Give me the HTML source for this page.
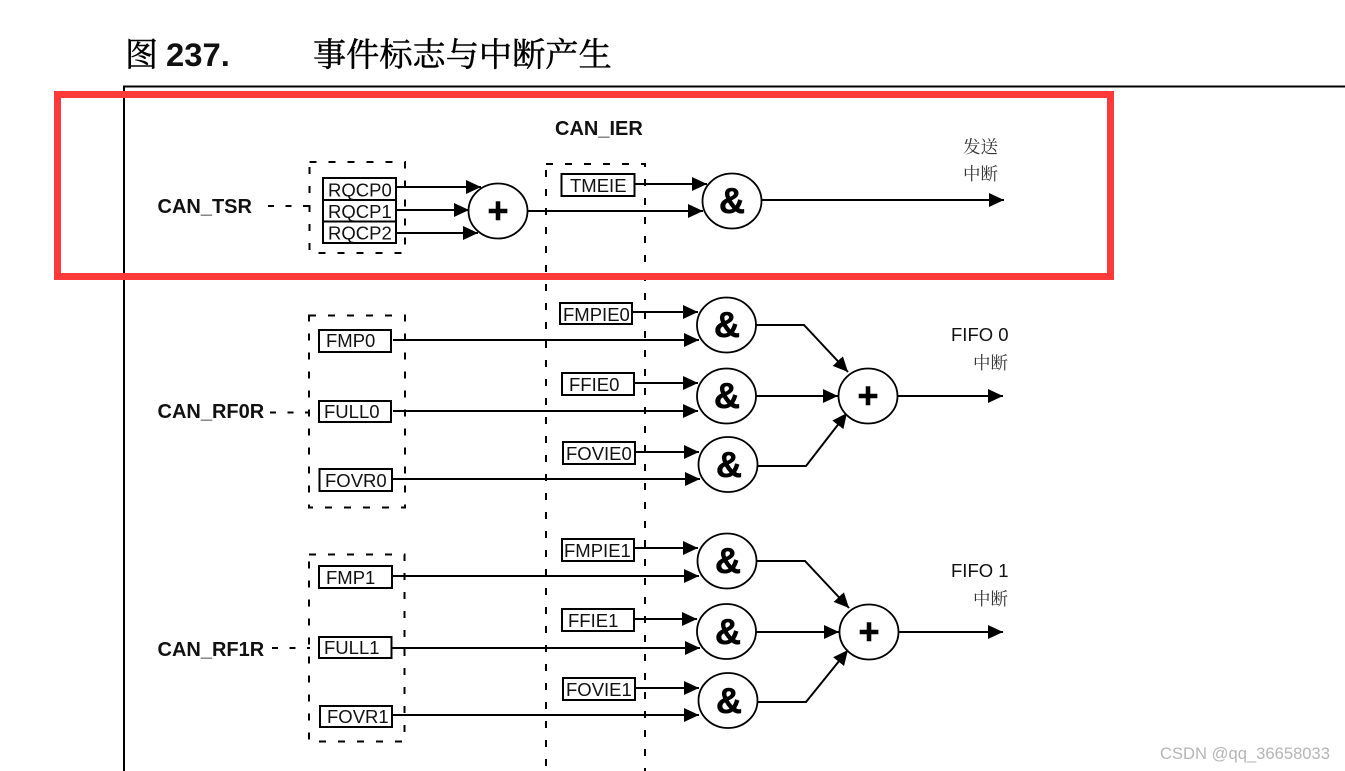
<!DOCTYPE html>
<html>
<head>
<meta charset="utf-8">
<style>
html,body{margin:0;padding:0;background:#fff;width:1345px;height:771px;overflow:hidden}
svg{display:block}
text{font-family:"Liberation Sans","Noto Sans CJK SC",sans-serif;fill:#111}
.b{font-weight:bold;font-size:20px}
.r{font-size:18.5px}
.op{font-weight:bold;font-size:36px;text-anchor:middle;fill:#000;stroke:#000;stroke-width:.6px}
.cn{font-family:"Liberation Serif","Noto Serif CJK SC",serif;font-size:17.5px;fill:#333}
.box{fill:#fff;stroke:#000;stroke-width:2}
.ln{fill:none;stroke:#000;stroke-width:2}
.d{fill:none;stroke:#000;stroke-width:2;stroke-dasharray:7 12}
.d2{fill:none;stroke:#000;stroke-width:2;stroke-dasharray:6 11.500}
.c{fill:#fff;stroke:#000;stroke-width:1.8}
.t{font-family:"Liberation Serif","Noto Serif CJK SC",serif;fill:#000;stroke:#000;stroke-width:.5px}
</style>
</head>
<body>
<svg width="1345" height="771" viewBox="0 0 1345 771" xmlns="http://www.w3.org/2000/svg">
<defs>
<marker id="a" markerUnits="userSpaceOnUse" markerWidth="15" markerHeight="14" refX="15" refY="7" orient="auto">
<path d="M0 0L15 7L0 14Z" fill="#000"/>
</marker>
</defs>

<text class="t" x="125" y="66" style="font-size:33px">图</text>
<text x="166" y="66" style="font-weight:bold;font-size:32.800px;fill:#111">237.</text>
<text class="t" x="313" y="66" style="font-size:33.200px">事件标志与中断产生</text>

<path d="M124 771V86.500H1345" class="ln"/>

<!-- dashed groups -->
<rect x="309.500" y="162" width="95.500" height="91" class="d"/>
<rect x="546" y="164" width="99" height="620" class="d"/>
<rect x="309" y="315.500" width="96" height="192" class="d"/>
<rect x="309" y="554.500" width="95.500" height="187" class="d"/>
<path d="M268 206H310M270 412.500H310M272 648H310" class="d2"/>

<!-- left labels -->
<text class="b" x="157.500" y="213">CAN_TSR</text>
<text class="b" x="157.500" y="418">CAN_RF0R</text>
<text class="b" x="157.500" y="656">CAN_RF1R</text>
<text class="b" x="555" y="135">CAN_IER</text>

<!-- connectors -->
<path class="ln" d="M396 187H481" marker-end="url(#a)"/>
<path class="ln" d="M396 210H469" marker-end="url(#a)"/>
<path class="ln" d="M396 233H478" marker-end="url(#a)"/>
<path class="ln" d="M528 211H703" marker-end="url(#a)"/>
<path class="ln" d="M635 184H707" marker-end="url(#a)"/>
<path class="ln" d="M762 200H1004" marker-end="url(#a)"/>

<path class="ln" d="M393 340H699" marker-end="url(#a)"/>
<path class="ln" d="M393 411H698" marker-end="url(#a)"/>
<path class="ln" d="M392 479H700" marker-end="url(#a)"/>
<path class="ln" d="M632 312H698" marker-end="url(#a)"/>
<path class="ln" d="M634 383H698" marker-end="url(#a)"/>
<path class="ln" d="M635 452H699" marker-end="url(#a)"/>
<path class="ln" d="M756 325H804L848 372" marker-end="url(#a)"/>
<path class="ln" d="M756 396H838" marker-end="url(#a)"/>
<path class="ln" d="M757 466H806L847 413" marker-end="url(#a)"/>
<path class="ln" d="M898 396H1003" marker-end="url(#a)"/>

<path class="ln" d="M392 576H699" marker-end="url(#a)"/>
<path class="ln" d="M392 648H700" marker-end="url(#a)"/>
<path class="ln" d="M392 715H699" marker-end="url(#a)"/>
<path class="ln" d="M634 548H698" marker-end="url(#a)"/>
<path class="ln" d="M634 619H697" marker-end="url(#a)"/>
<path class="ln" d="M635 688H699" marker-end="url(#a)"/>
<path class="ln" d="M756 561H805L849 608" marker-end="url(#a)"/>
<path class="ln" d="M756 632H839" marker-end="url(#a)"/>
<path class="ln" d="M757 702H806L848 650" marker-end="url(#a)"/>
<path class="ln" d="M899 632H1003" marker-end="url(#a)"/>

<!-- register boxes -->
<rect class="box" x="323" y="178" width="73" height="22"/>
<rect class="box" x="323" y="200" width="73" height="21.500"/>
<rect class="box" x="323" y="221.500" width="73" height="21.500"/>
<text class="r" x="328" y="196.500">RQCP0</text>
<text class="r" x="328" y="218">RQCP1</text>
<text class="r" x="328" y="239.500">RQCP2</text>

<rect class="box" x="561.500" y="174" width="73" height="22"/>
<text class="r" x="570" y="192">TMEIE</text>

<rect class="box" x="319" y="330" width="72" height="22"/>
<text class="r" x="326" y="347">FMP0</text>
<rect class="box" x="319" y="401" width="72" height="21"/>
<text class="r" x="324" y="418">FULL0</text>
<rect class="box" x="319.500" y="469" width="72.500" height="22"/>
<text class="r" x="325" y="487">FOVR0</text>

<rect class="box" x="560" y="303" width="72" height="21"/>
<text class="r" x="563" y="321">FMPIE0</text>
<rect class="box" x="562" y="373" width="72" height="22"/>
<text class="r" x="569" y="391">FFIE0</text>
<rect class="box" x="563" y="442" width="72" height="22"/>
<text class="r" x="566" y="460">FOVIE0</text>

<rect class="box" x="319" y="566" width="73" height="22"/>
<text class="r" x="326" y="584">FMP1</text>
<rect class="box" x="319" y="637" width="72.500" height="21"/>
<text class="r" x="324" y="654">FULL1</text>
<rect class="box" x="320" y="706" width="72" height="21"/>
<text class="r" x="327" y="723">FOVR1</text>

<rect class="box" x="562" y="539" width="72" height="22"/>
<text class="r" x="564" y="557">FMPIE1</text>
<rect class="box" x="562" y="609" width="72" height="22"/>
<text class="r" x="568" y="627">FFIE1</text>
<rect class="box" x="563" y="678" width="72" height="22"/>
<text class="r" x="566" y="696">FOVIE1</text>

<!-- gates -->
<ellipse class="c" cx="498" cy="211" rx="29.500" ry="27.500"/>
<text class="op" x="498" y="223">+</text>
<ellipse class="c" cx="732" cy="201" rx="29.500" ry="27.500"/>
<text class="op" x="732" y="213">&amp;</text>

<ellipse class="c" cx="726.500" cy="325" rx="29.500" ry="27.500"/>
<text class="op" x="727" y="337">&amp;</text>
<ellipse class="c" cx="726.500" cy="396" rx="29.500" ry="27.500"/>
<text class="op" x="727" y="408">&amp;</text>
<ellipse class="c" cx="728" cy="464.500" rx="29.500" ry="27.500"/>
<text class="op" x="729" y="477">&amp;</text>
<ellipse class="c" cx="868" cy="396" rx="29.500" ry="27.500"/>
<text class="op" x="868" y="408">+</text>

<ellipse class="c" cx="727" cy="561" rx="29.500" ry="27.500"/>
<text class="op" x="728" y="573">&amp;</text>
<ellipse class="c" cx="726.500" cy="631.500" rx="29.500" ry="27.500"/>
<text class="op" x="728" y="644">&amp;</text>
<ellipse class="c" cx="728" cy="700.500" rx="29.500" ry="27.500"/>
<text class="op" x="729" y="713">&amp;</text>
<ellipse class="c" cx="869" cy="632" rx="29.500" ry="27.500"/>
<text class="op" x="869" y="644">+</text>

<!-- right labels -->
<text class="cn" x="963" y="153">发送</text>
<text class="cn" x="963" y="180">中断</text>
<text class="r" x="951" y="341">FIFO 0</text>
<text class="cn" x="973" y="369">中断</text>
<text class="r" x="951" y="577">FIFO 1</text>
<text class="cn" x="973" y="605">中断</text>

<!-- highlight -->
<rect x="57.500" y="94.500" width="1053" height="182" fill="none" stroke="#fc3a3a" stroke-width="7"/>

<text x="1160" y="759" style="font-size:16.600px;fill:#b5b5b5">CSDN @qq_36658033</text>
</svg>
</body>
</html>
